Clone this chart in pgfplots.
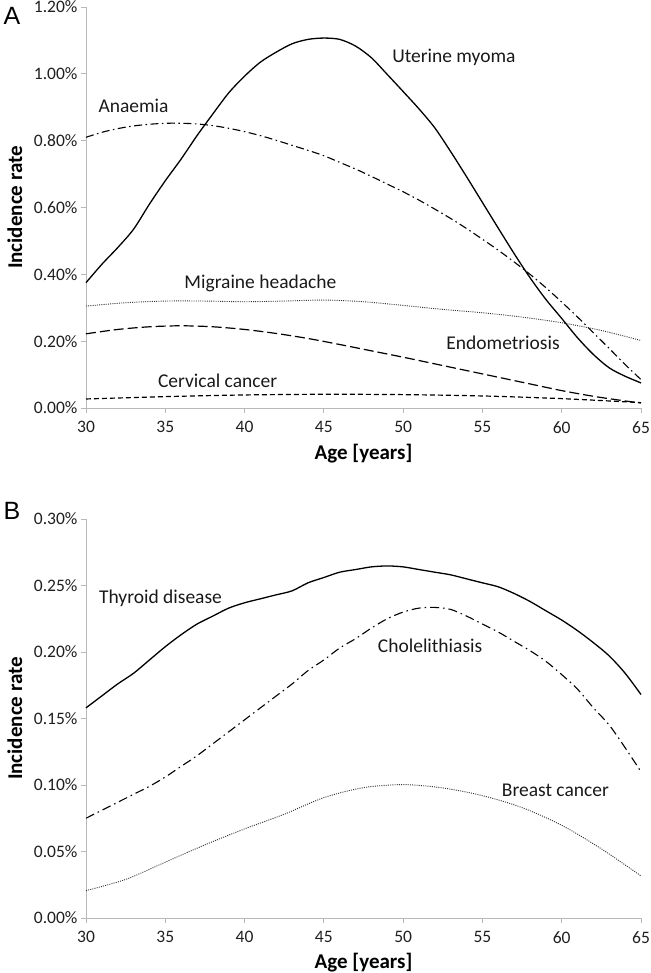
\documentclass[border=0pt]{standalone}
\usepackage{pgfplots}
\pgfplotsset{compat=1.18}
\usepackage{fontspec}
\setmainfont{Carlito}
\newfontfamily\arialfont{Liberation Sans}

\tikzset{ann/.style={font=\fontsize{19.5}{22}\selectfont, text=black!90}}
\pgfplotsset{
 myaxis/.style={
  scale only axis, width=555pt,
  xmin=30, xmax=65, ymin=0,
  axis x line*=bottom, axis y line*=left,
  axis line style={draw=black!28, line width=0.9pt},
  major tick style={draw=black!28, line width=0.9pt},
  tick align=outside, major tick length=5pt,
  xtick={30,35,...,65},
  xticklabels={30,35,40,45,50,55,60,65},
  tick label style={font=\fontsize{17.5}{20}\selectfont, text=black!88},
  xticklabel style={yshift=-5pt},
  xlabel={Age [years]}, ylabel={Incidence rate},
  every axis x label/.style={at={(axis description cs:0.5,-0.113)}, anchor=center, font=\bfseries\fontsize{21}{24}\selectfont},
  every axis y label/.style={at={(axis description cs:-0.128,0.5)}, anchor=center, rotate=90, font=\bfseries\fontsize{21}{24}\selectfont},
  clip=false,
 },
}

\begin{document}
\begin{tikzpicture}
\useasboundingbox (0,0) rectangle (650pt,973pt);

% Panel A
\begin{axis}[myaxis, at={(86pt,565pt)}, anchor=south west, height=401pt,
  ymax=1.2, ytick={0,0.2,0.4,0.6,0.8,1.0,1.2},
  yticklabels={0.00\%,0.20\%,0.40\%,0.60\%,0.80\%,1.00\%,1.20\%}]
% Uterine myoma
\addplot[black, line width=1.3pt, smooth, tension=0.5] table {
30 0.375
31 0.43
32 0.48
33 0.535
34 0.61
35 0.68
36 0.745
37 0.815
38 0.88
39 0.943
40 0.993
41 1.035
42 1.065
43 1.09
44 1.103
45 1.107
46 1.103
47 1.083
48 1.048
49 0.998
50 0.947
51 0.895
52 0.838
53 0.767
54 0.692
55 0.615
56 0.538
57 0.462
58 0.39
59 0.325
60 0.268
61 0.21
62 0.16
63 0.12
64 0.095
65 0.075
};
% Anaemia
\addplot[black, line width=1.1pt, smooth, dash pattern=on 8pt off 3.5pt on 1.5pt off 3.5pt] table {
30 0.81
31 0.825
32 0.836
33 0.844
34 0.849
35 0.852
36 0.852
37 0.85
38 0.845
39 0.837
40 0.827
41 0.815
42 0.801
43 0.786
44 0.771
45 0.755
46 0.735
47 0.715
48 0.693
49 0.67
50 0.647
51 0.622
52 0.595
53 0.567
54 0.537
55 0.505
56 0.472
57 0.437
58 0.40
59 0.36
60 0.317
61 0.272
62 0.225
63 0.178
64 0.13
65 0.085
};
% Migraine headache
\addplot[black!80, line width=0.9pt, smooth, dash pattern=on 1pt off 1.2pt] table {
30 0.305
32.5 0.315
35 0.32
37.5 0.32
40 0.318
42.5 0.32
45 0.323
47.5 0.318
50 0.307
52.5 0.295
55 0.285
57.5 0.272
60 0.255
62.5 0.232
65 0.202
};
% Endometriosis
\addplot[black, line width=1.2pt, smooth, dash pattern=on 10pt off 4pt] table {
30 0.222
32 0.235
34 0.243
36 0.246
38 0.243
40 0.235
42 0.223
44 0.208
46 0.19
48 0.171
50 0.152
52 0.132
54 0.112
56 0.092
58 0.072
60 0.052
62 0.035
64 0.021
65 0.015
};
% Cervical cancer
\addplot[black, line width=1.2pt, smooth, dash pattern=on 5pt off 3pt] table {
30 0.027
35 0.034
40 0.039
45 0.041
50 0.040
55 0.036
60 0.028
65 0.016
};
\node[ann] at (axis cs:33.0,0.904) {Anaemia};
\node[ann] at (axis cs:53.2,1.05) {Uterine myoma};
\node[ann] at (axis cs:41.0,0.372) {Migraine headache};
\node[ann] at (axis cs:56.3,0.195) {Endometriosis};
\node[ann] at (axis cs:38.3,0.082) {Cervical cancer};
\end{axis}

% Panel B
\begin{axis}[myaxis, at={(86pt,55pt)}, anchor=south west, height=399pt,
  ymax=0.3, ytick={0,0.05,0.1,0.15,0.2,0.25,0.3},
  yticklabels={0.00\%,0.05\%,0.10\%,0.15\%,0.20\%,0.25\%,0.30\%}]
% Thyroid disease
\addplot[black, line width=1.3pt, smooth, tension=0.5] table {
30 0.158
31 0.167
32 0.176
33 0.184
34 0.194
35 0.204
36 0.213
37 0.221
38 0.227
39 0.233
40 0.237
41 0.240
42 0.243
43 0.246
44 0.252
45 0.256
46 0.260
47 0.262
48 0.264
49 0.2647
50 0.264
51 0.262
52 0.260
53 0.258
54 0.255
55 0.252
56 0.249
57 0.244
58 0.238
59 0.231
60 0.224
61 0.216
62 0.207
63 0.197
64 0.184
65 0.168
};
% Cholelithiasis
\addplot[black, line width=1.1pt, smooth, dash pattern=on 9pt off 4pt on 1.5pt off 4pt] table {
30 0.075
31 0.081
32 0.087
33 0.093
34 0.099
35 0.106
36 0.114
37 0.122
38 0.131
39 0.140
40 0.149
41 0.158
42 0.167
43 0.176
44 0.186
45 0.194
46 0.203
47 0.210
48 0.218
49 0.225
50 0.230
51 0.233
52 0.2335
53 0.232
54 0.227
55 0.221
56 0.215
57 0.208
58 0.201
59 0.193
60 0.183
61 0.172
62 0.158
63 0.145
64 0.128
65 0.110
};
% Breast cancer
\addplot[black!80, line width=0.9pt, smooth, dash pattern=on 1pt off 1.2pt] table {
30 0.0206
32.5 0.029
35 0.042
37.5 0.055
40 0.067
42.5 0.078
45 0.0905
47.5 0.098
50 0.1003
52.5 0.0978
55 0.092
57.5 0.083
60 0.0697
62.5 0.052
65 0.0316
};
\node[ann] at (axis cs:34.7,0.240) {Thyroid disease};
\node[ann] at (axis cs:51.7,0.205) {Cholelithiasis};
\node[ann] at (axis cs:59.6,0.0963) {Breast cancer};
\end{axis}

\node[font=\arialfont\fontsize{25}{27}\selectfont] at (12pt,957pt) {A};
\node[font=\arialfont\fontsize{25}{27}\selectfont] at (12pt,462pt) {B};
\end{tikzpicture}
\end{document}
